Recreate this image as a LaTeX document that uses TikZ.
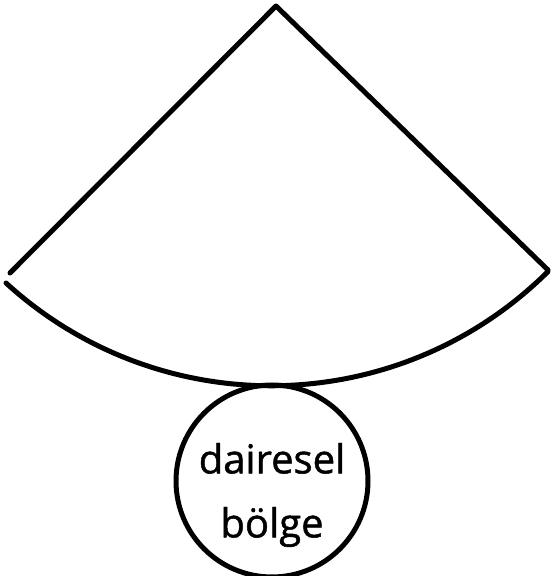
\documentclass[tikz,border=0pt]{standalone}
\usepackage{fontspec}
\setmainfont{Open Sans}
\newfontfamily\labelfont[FakeBold=1.2]{Open Sans}
\begin{document}
\begin{tikzpicture}[
      x=1pt, y=1pt,
      outline/.style={line width=5pt, line cap=round, line join=round},
      base/.style={circle, draw, line width=5pt, minimum size=192pt,
        inner sep=0pt},
      caption/.style={align=center, inner sep=0pt,
        font=\labelfont\fontsize{40}{64}\selectfont}
    ]
    \useasboundingbox (0,0) rectangle (552,576);
    \coordinate (apex) at (276,570);
    \coordinate (left) at (10,303);
    \coordinate (right) at (548,306);
    \draw[outline] (left) -- (apex) -- (right);
    \draw[outline] (6,293) arc (227.6:314.8:393);
    \node[base] (bolge) at (272,95) {};
    \node[caption] (name) at ([yshift=-14pt]bolge.center) {dairesel\\bölge};
  \end{tikzpicture}
\end{document}
